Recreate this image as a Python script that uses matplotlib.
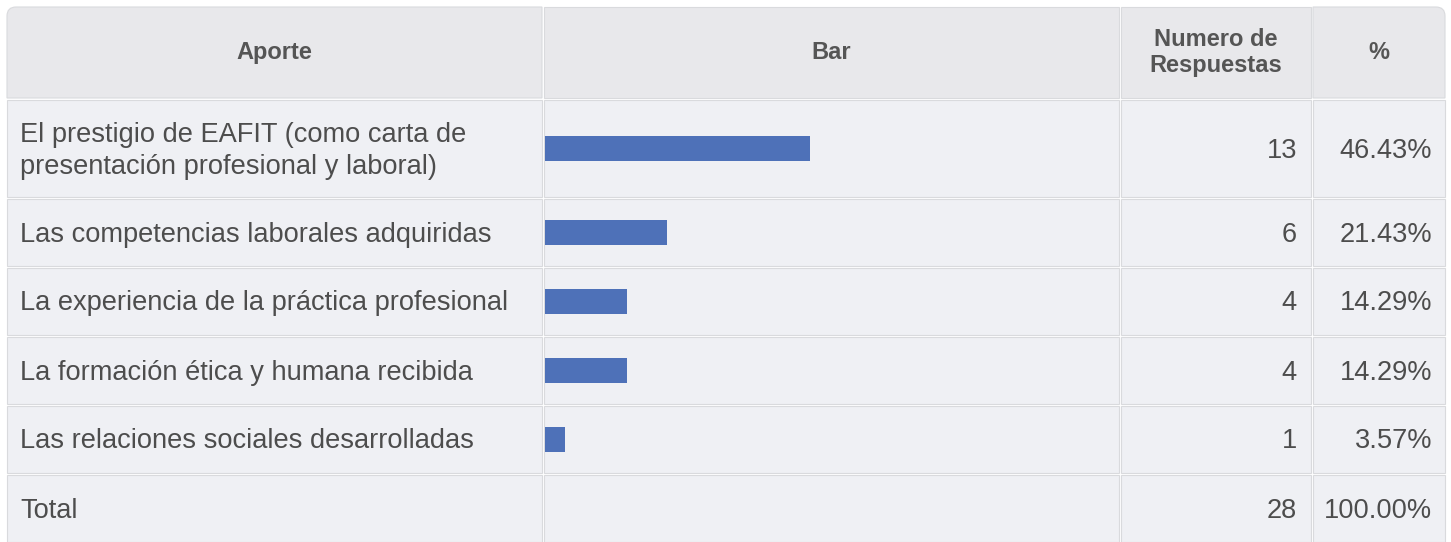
import matplotlib.pyplot as plt
from matplotlib.patches import Rectangle, PathPatch
from matplotlib.path import Path

plt.rcParams['font.family'] = ['Liberation Sans', 'DejaVu Sans']

# table data
headers = ["Aporte", "Bar", "Numero de\nRespuestas", "%"]
aportes = [
    "El prestigio de EAFIT (como carta de\npresentación profesional y laboral)",
    "Las competencias laborales adquiridas",
    "La experiencia de la práctica profesional",
    "La formación ética y humana recibida",
    "Las relaciones sociales desarrolladas",
]
respuestas = [13, 6, 4, 4, 1]
porcentajes = [46.43, 21.43, 14.29, 14.29, 3.57]
total_resp = 28
total_pct = "100.00%"

# layout in pixels
W, H = 1451, 542
col_edges = [6, 543, 1120, 1312, 1446]
row_edges = [6, 99, 198, 267, 336, 405, 474, 543]
header_bg = "#e8e8eb"
body_bg = "#eff0f4"
border = "#d9dadd"
bar_color = "#4e71b8"
txt_color = "#4d4d4d"
px_per_pct = 5.71
fs = 19.6


def cell_path(x0, y0, x1, y1, r_left=0, r_right=0):
    # rectangle (y down) with optional rounded top corners
    verts, codes = [], []
    if r_left:
        verts += [(x0, y0 + r_left), (x0, y0), (x0 + r_left, y0)]
        codes += [Path.MOVETO, Path.CURVE3, Path.CURVE3]
    else:
        verts += [(x0, y0)]
        codes += [Path.MOVETO]
    if r_right:
        verts += [(x1 - r_right, y0), (x1, y0), (x1, y0 + r_right)]
        codes += [Path.LINETO, Path.CURVE3, Path.CURVE3]
    else:
        verts += [(x1, y0)]
        codes += [Path.LINETO]
    verts += [(x1, y1), (x0, y1), (x0, y1)]
    codes += [Path.LINETO, Path.LINETO, Path.CLOSEPOLY]
    return Path(verts, codes)


fig = plt.figure(figsize=(W / 100, H / 100), dpi=100)
ax = fig.add_axes([0, 0, 1, 1])
ax.set_xlim(0, W)
ax.set_ylim(H, 0)
ax.axis("off")

# cells
ncol = len(col_edges) - 1
for r in range(len(row_edges) - 1):
    for c in range(ncol):
        x0, x1 = col_edges[c] + 1, col_edges[c + 1] - 1
        y0, y1 = row_edges[r] + 1, row_edges[r + 1] - 1
        bg = header_bg if r == 0 else body_bg
        rl = 9 if (r == 0 and c == 0) else 0
        rr = 9 if (r == 0 and c == ncol - 1) else 0
        ax.add_patch(PathPatch(cell_path(x0, y0, x1, y1, rl, rr),
                               facecolor=bg, edgecolor=border, linewidth=0.8))

# header text
for c, h in enumerate(headers):
    xc = (col_edges[c] + col_edges[c + 1]) / 2
    yc = (row_edges[0] + row_edges[1]) / 2
    ax.text(xc, yc, h, ha="center", va="center", fontsize=17,
            fontweight="bold", color="#555555", linespacing=1.2)

# body rows
centers = [(row_edges[i + 1] + row_edges[i + 2]) / 2 for i in range(len(aportes))]
for i, label in enumerate(aportes):
    ax.text(20, centers[i] + 2, label, ha="left", va="center", fontsize=fs,
            color=txt_color, linespacing=1.3)
    ax.text(1297, centers[i] + 2, str(respuestas[i]), ha="right", va="center",
            fontsize=fs, color=txt_color)
    ax.text(1432, centers[i] + 2, f"{porcentajes[i]:.2f}%", ha="right",
            va="center", fontsize=fs, color=txt_color)

ax.barh(centers, [p * px_per_pct for p in porcentajes], left=545, height=25,
        color=bar_color)

# total row
yt = (row_edges[-2] + row_edges[-1]) / 2 + 2
ax.text(20, yt, "Total", ha="left", va="center", fontsize=fs, color=txt_color)
ax.text(1297, yt, str(total_resp), ha="right", va="center", fontsize=fs, color=txt_color)
ax.text(1432, yt, total_pct, ha="right", va="center", fontsize=fs, color=txt_color)

fig.savefig("out.png", dpi=100, facecolor="white")
